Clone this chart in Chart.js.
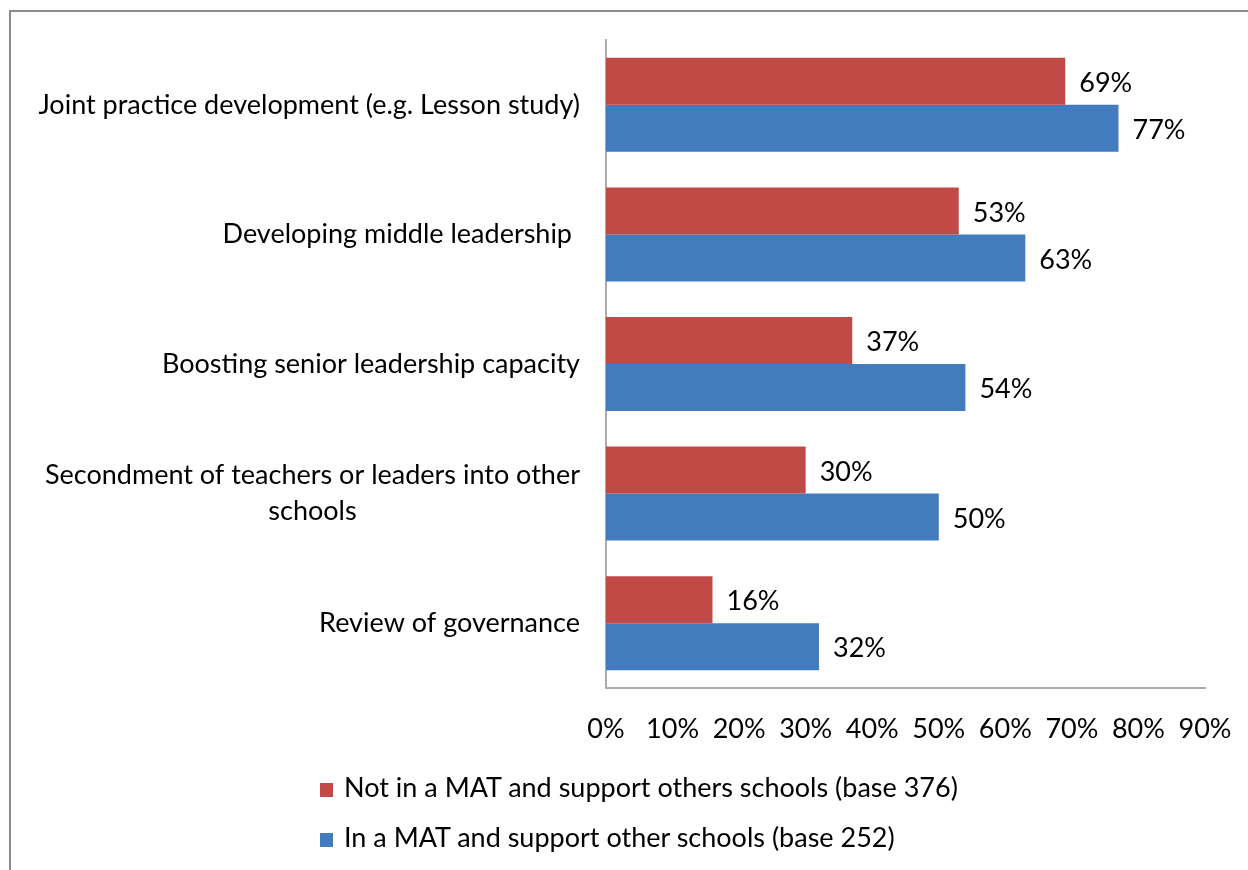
<!DOCTYPE html>
<html>
<head>
<meta charset="utf-8">
<script src="https://cdn.jsdelivr.net/npm/chart.js@4.4.1/dist/chart.umd.min.js"></script>
<style>
    body { margin: 0; background: #fff; font-family: Lato, "Open Sans", sans-serif; }
    #wrap { position: relative; width: 1248px; height: 870px; overflow: hidden; }
    #frame { position: absolute; left: 9px; top: 10px; width: 1300px; height: 900px;
             border-left: 2px solid #8c8c8c; border-top: 2px solid #8c8c8c; }
    canvas { position: absolute; left: 0; top: 0; }
    .legenda { position: absolute; left: 320px; font-size: 27px; color: #000; line-height: 27px; }
    .legenda span { display: inline-block; width: 13px; height: 14px; margin-right: 11px; vertical-align: 0px; }
</style>
</head>
<body>
<div id="wrap">
    <div id="frame"></div>
    <canvas id="graficoApoio" width="1248" height="870"></canvas>
    <div class="legenda" style="top: 773px;"><span style="background:#C14A47"></span>Not in a MAT and support others schools (base 376)</div>
    <div class="legenda" style="top: 823px;"><span style="background:#427BBE"></span>In a MAT and support other schools (base 252)</div>
</div>
<script>
const categorias = [
    ['Joint practice development (e.g. Lesson study)'],
    ['Developing middle leadership '],
    ['Boosting senior leadership capacity'],
    ['Secondment of teachers or leaders into other', 'schools'],
    ['Review of governance']
];
const foraMat = [69, 53, 37, 30, 16];
const dentroMat = [77, 63, 54, 50, 32];
const nomesSeries = [
    'Not in a MAT and support others schools (base 376)',
    'In a MAT and support other schools (base 252)'
];
const ticksX = [0, 10, 20, 30, 40, 50, 60, 70, 80, 90];

const fonte = '27px Lato, "Open Sans", sans-serif';

// rótulos das categorias: bloco alinhado à direita, linhas centradas
const rotulosCategorias = {
    id: 'rotulosCategorias',
    afterDraw(chart) {
        const ctx = chart.ctx;
        const y = chart.scales.y;
        const direita = 580;
        ctx.save();
        ctx.font = fonte;
        ctx.fillStyle = '#000';
        ctx.textAlign = 'center';
        ctx.textBaseline = 'middle';
        categorias.forEach((linhas, i) => {
            const centro = y.getPixelForTick(i);
            const larg = Math.max(...linhas.map(l => ctx.measureText(l.trimEnd()).width));
            const cx = direita - larg / 2;
            const alt = 36;
            linhas.forEach((l, j) => {
                const ly = centro + (j - (linhas.length - 1) / 2) * alt;
                ctx.fillText(l.trimEnd(), cx - (l !== l.trimEnd() ? 8 : 0), ly);
            });
        });
        ctx.restore();
    }
};

// valores ao lado das barras
const rotulosValores = {
    id: 'rotulosValores',
    afterDatasetsDraw(chart) {
        const ctx = chart.ctx;
        ctx.save();
        ctx.font = fonte;
        ctx.fillStyle = '#000';
        ctx.textAlign = 'left';
        ctx.textBaseline = 'middle';
        chart.data.datasets.forEach((ds, di) => {
            chart.getDatasetMeta(di).data.forEach((barra, i) => {
                ctx.fillText(ds.data[i] + '%', barra.x + 14, barra.y + 2);
            });
        });
        ctx.restore();
    }
};

const ctx = document.getElementById('graficoApoio').getContext('2d');
new Chart(ctx, {
    type: 'bar',
    data: {
        labels: categorias,
        datasets: [{
            label: nomesSeries[0],
            data: foraMat,
            backgroundColor: '#C14A47'
        }, {
            label: nomesSeries[1],
            data: dentroMat,
            backgroundColor: '#427BBE'
        }]
    },
    options: {
        indexAxis: 'y',
        responsive: false,
        animation: false,
        categoryPercentage: 0.725,
        barPercentage: 1,
        layout: { padding: { left: 0, right: 43, top: 40, bottom: 122 } },
        plugins: {
            legend: { display: false },
            tooltip: { enabled: false }
        },
        scales: {
            x: {
                min: 0,
                max: 90,
                grid: { display: false, drawTicks: false },
                border: { display: true, color: '#ababab', width: 2 },
                afterBuildTicks: s => { s.ticks = ticksX.map(v => ({ value: v })); },
                afterFit: s => {
                    s.height = 60;
                    s.paddingLeft = 0;
                    s.paddingRight = 0;
                },
                ticks: {
                    padding: 25,
                    color: '#000',
                    font: { family: 'Lato, "Open Sans", sans-serif', size: 27 },
                    maxRotation: 0,
                    callback: v => v + '%'
                }
            },
            y: {
                grid: { display: false, drawTicks: false },
                border: { display: true, color: '#ababab', width: 2 },
                ticks: { display: false },
                afterFit: s => { s.width = 606; }
            }
        }
    },
    plugins: [rotulosCategorias, rotulosValores]
});
</script>
</body>
</html>
